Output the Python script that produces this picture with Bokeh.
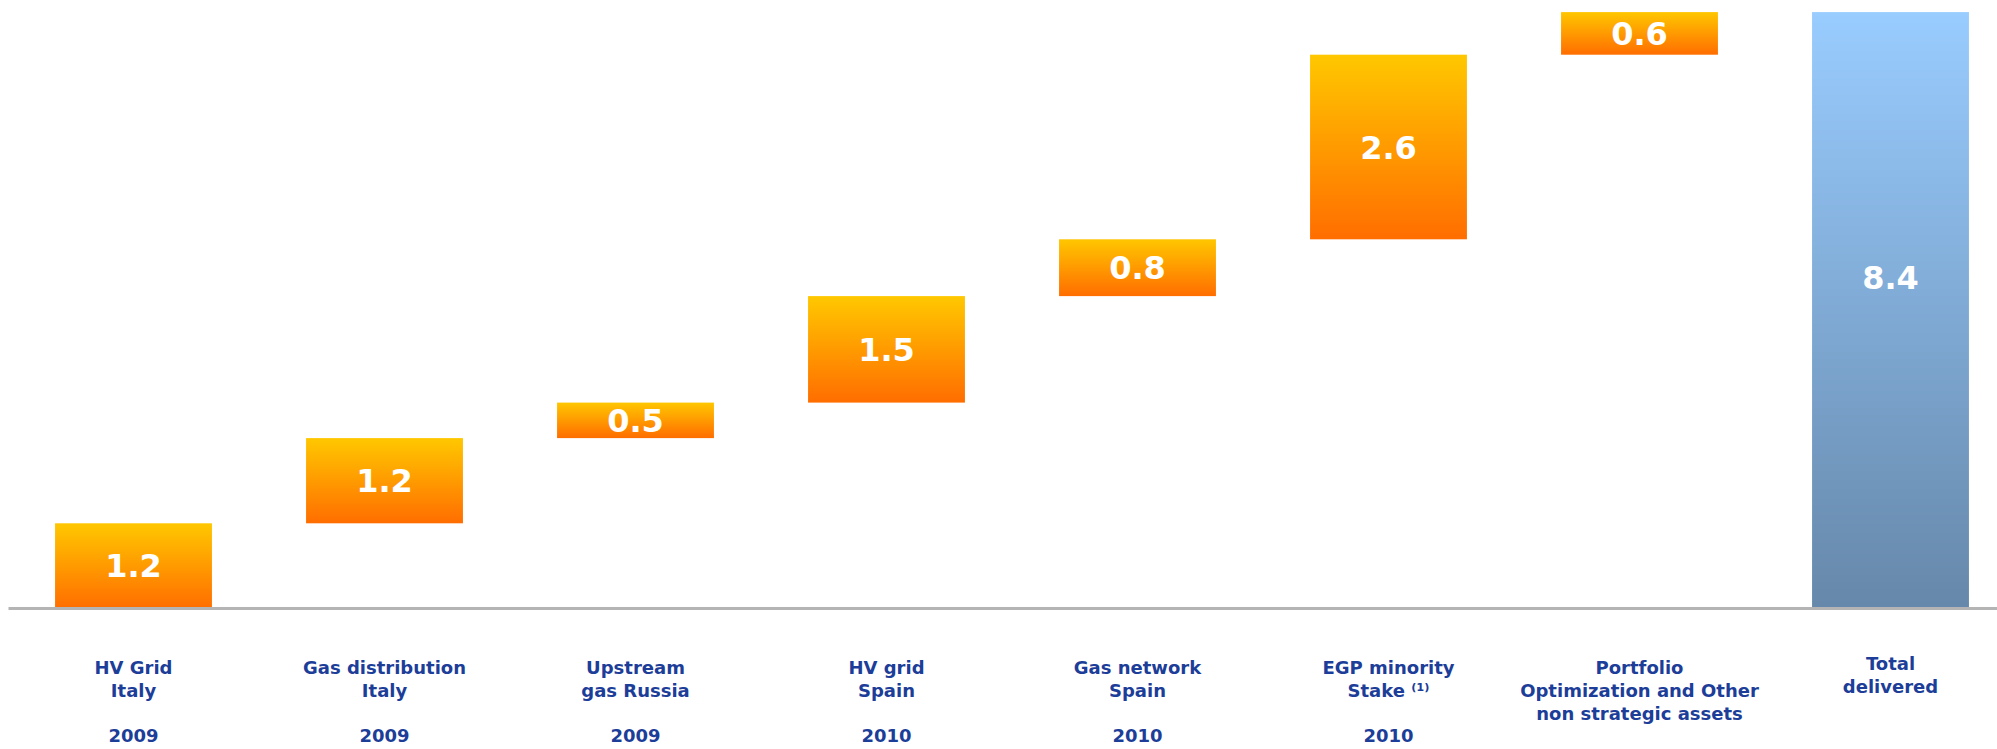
import numpy as np
from bokeh.plotting import figure
from bokeh.models import Range1d
from bokeh.core.properties import value
from bokeh.embed import file_html
from bokeh.resources import INLINE

# ---------------- data ----------------
label_lines = [
    ["HV Grid", "Italy"],
    ["Gas distribution", "Italy"],
    ["Upstream", "gas Russia"],
    ["HV grid", "Spain"],
    ["Gas network", "Spain"],
    ["EGP minority", "Stake \u207d\u00b9\u207e"],
    ["Portfolio", "Optimization and Other", "non strategic assets"],
    ["Total", "delivered"],
]
years = ["2009", "2009", "2009", "2010", "2010", "2010", "", ""]
step_values = [1.2, 1.2, 0.5, 1.5, 0.8, 2.6, 0.6]
total_value = 8.4
value_labels = ["1.2", "1.2", "0.5", "1.5", "0.8", "2.6", "0.6", "8.4"]

# ---------------- layout constants ----------------
W, H = 1997, 749
CAT_PX = 251.0          # pixels per category
X0_PX = 133.0           # canvas x of first category center
BASE_PX = 608.0         # canvas y of baseline
UNIT_PX = 71.0          # pixels per value unit
BAR_W = 0.625

x_range = Range1d(-X0_PX / CAT_PX, (W - X0_PX) / CAT_PX)
y_range = Range1d(-(H - BASE_PX) / UNIT_PX, BASE_PX / UNIT_PX)

p = figure(width=W, height=H, x_range=x_range, y_range=y_range,
           output_backend="svg", toolbar_location=None,
           x_axis_type=None, y_axis_type=None, min_border=0)
p.grid.visible = False
p.outline_line_color = None
p.background_fill_color = "white"


def gradient(top_rgb, bottom_rgb, n=256):
    t = np.linspace(0.0, 1.0, n)[:, None]  # row 0 = bottom
    img = np.empty((n, 1), dtype=np.uint32)
    view = img.view(dtype=np.uint8).reshape((n, 1, 4))
    for c in range(3):
        view[:, :, c] = np.round(bottom_rgb[c] + (top_rgb[c] - bottom_rgb[c]) * t).astype(np.uint8)
    view[:, :, 3] = 255
    return img


orange = gradient((255, 200, 0), (255, 110, 0))
blue = gradient((153, 204, 255), (102, 136, 170))

# waterfall geometry derived from data
n = len(step_values)
tops = list(np.cumsum(step_values))
bottoms = [t - v for t, v in zip(tops, step_values)]
xs = list(range(n + 1))
bar_bottoms = bottoms + [0.0]
bar_heights = step_values + [total_value]
images = [orange] * n + [blue]

p.image_rgba(image=images,
             x=[x - BAR_W / 2 for x in xs],
             y=bar_bottoms,
             dw=[BAR_W] * (n + 1),
             dh=bar_heights)

# baseline (starts a few pixels in from the left edge)
p.segment(x0=[x_range.start + 8.0 / CAT_PX], y0=[0.0],
          x1=[x_range.end], y1=[0.0],
          line_color="#b4b4b4", line_width=3)

# value labels
label_frac = [0.5] * n + [0.555]
p.text(x=xs,
       y=[b + h * f for b, h, f in zip(bar_bottoms, bar_heights, label_frac)],
       text=value_labels,
       text_font=value("DejaVu Sans"), text_font_style="bold",
       text_font_size="32px", text_color="white",
       text_align="center", text_baseline="middle")

# category labels
LABEL_COLOR = "#1c3d98"
lx, ly, lt = [], [], []
for i, lines in enumerate(label_lines):
    start = 55.0 if i == n else 59.0
    for j, line in enumerate(lines):
        lx.append(i)
        ly.append(-(start + 23.0 * j) / UNIT_PX)
        lt.append(line)
p.text(x=lx, y=ly, text=lt,
       text_font=value("DejaVu Sans"), text_font_style="bold",
       text_font_size="18px", text_color=LABEL_COLOR,
       text_align="center", text_baseline="middle")

yx = [i for i, yv in enumerate(years) if yv]
yt = [yv for yv in years if yv]
p.text(x=yx, y=[-127.0 / UNIT_PX] * len(yx), text=yt,
       text_font=value("DejaVu Sans"), text_font_style="bold",
       text_font_size="18px", text_color=LABEL_COLOR,
       text_align="center", text_baseline="middle")

open("out.html", "w").write(file_html(p, INLINE))
